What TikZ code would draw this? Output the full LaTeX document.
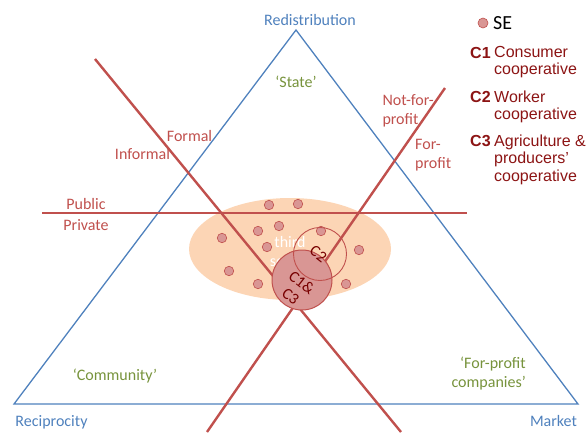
\documentclass[tikz,border=0pt]{standalone}
\usepackage{fontspec}
\setmainfont{Carlito}
\newfontfamily\arialf{Liberation Sans}
\usetikzlibrary{shapes.geometric}
\definecolor{tblue}{HTML}{4F81BD}
\definecolor{tred}{HTML}{C0504D}
\definecolor{tgreen}{HTML}{77933C}
\definecolor{tpeach}{HTML}{FCD5B5}
\definecolor{tpink}{HTML}{D99694}
\definecolor{tdark}{RGB}{120,0,0}
\definecolor{tleg}{RGB}{140,20,20}
\begin{document}
\begin{tikzpicture}[x=1pt,y=-1pt,
  lbl/.style={font=\fontsize{16}{19.5}\selectfont, inner sep=0pt},
  redlbl/.style={lbl, text=tred, align=left},
  grnlbl/.style={lbl, text=tgreen},
  bluelbl/.style={lbl, text=tblue},
  redline/.style={draw=tred, line width=2.4pt},
  sedot/.style={circle, fill=tpink, draw=tred, line width=0.6pt, minimum size=9.5pt, inner sep=0pt},
  legkey/.style={font=\arialf\bfseries\fontsize{16}{17.3}\selectfont, text=tleg, inner sep=0pt, anchor=base west},
  legtxt/.style={font=\arialf\fontsize{16}{17.3}\selectfont, text=tleg, inner sep=0pt, align=left, anchor=north west},
  clbl/.style={font=\fontsize{16}{18}\selectfont, text=tdark, inner sep=0pt, align=center, rotate=-38},
]
\useasboundingbox (0,0) rectangle (587,432);
% triangle
\coordinate (top) at (296,30);
\coordinate (bl) at (14,404);
\coordinate (br) at (578,404);
\draw[tblue, line width=1.3pt, line join=miter] (top) -- (bl) -- (br) -- cycle;
% third sector ellipse
\node[ellipse, fill=tpeach, minimum width=202pt, minimum height=102pt, inner sep=0pt] (ell) at (290,249) {};
\node[lbl, text=white, align=center] (ts) at (290,251.5) {third\\sector};
% red lines
\coordinate (a1) at (95,59);
\coordinate (a2) at (401,432);
\coordinate (b1) at (445,88);
\coordinate (b2) at (207,432);
\coordinate (h1) at (42,213);
\coordinate (h2) at (467,213);
\draw[redline] (a1) -- (a2);
\draw[redline] (b1) -- (b2);
\draw[redline] (h1) -- (h2);
% SE dots
\node[sedot] (d1) at (269,205) {};
\node[sedot] (d2) at (298,204) {};
\node[sedot] (d3) at (258,231) {};
\node[sedot] (d4) at (279,226) {};
\node[sedot] (d5) at (222,238) {};
\node[sedot] (d6) at (267,247) {};
\node[sedot] (d7) at (321,231) {};
\node[sedot] (d8) at (359,250) {};
\node[sedot] (d9) at (229,271) {};
\node[sedot] (d10) at (258,284) {};
\node[sedot] (d11) at (346,284) {};
% cooperative circles
\node[circle, fill=tpink, draw=tred, line width=1pt, minimum size=60pt, inner sep=0pt] (c13) at (302,280) {};
\node[circle, draw=tred, line width=0.9pt, minimum size=53pt, inner sep=0pt] (c2) at (320,254) {};
\node[clbl] (c2l) at (318.3,254) {C2};
\node[clbl] (c13l) at (296.3,289.5) {C1\&\\C3};
% corner labels
\node[bluelbl] (redis) at (310,20) {Redistribution};
\node[bluelbl] (recip) at (51.5,422) {Reciprocity};
\node[bluelbl] (market) at (553.5,421) {Market};
% sector labels
\node[grnlbl] (state) at (296,82) {‘State’};
\node[grnlbl] (comm) at (115,376) {‘Community’};
\node[grnlbl, align=right, anchor=east] (fpc) at (526,373.5) {‘For-profit\\companies’};
% dimension labels
\node[redlbl] (formal) at (189.5,136) {Formal};
\node[redlbl] (informal) at (142.5,154) {Informal};
\node[redlbl] (public) at (86,204) {Public};
\node[redlbl] (private) at (86,225) {Private};
\node[redlbl, anchor=west] (nfp) at (382.3,111) {Not-for-\\profit};
\node[redlbl, anchor=west] (fp) at (415,155) {For-\\profit};
% legend
\node[sedot, minimum size=10pt] (sekey) at (483,23) {};
\node[font=\fontsize{20}{24}\selectfont, inner sep=0pt, anchor=west] (se) at (493,23) {SE};
\node[legkey] (k1) at (470,58) {C1};
\node[legtxt] (t1) at (494,46.3) {Consumer\\cooperative};
\node[legkey] (k2) at (470,102.3) {C2};
\node[legtxt] (t2) at (494,90.6) {Worker\\cooperative};
\node[legkey] (k3) at (470,146.6) {C3};
\node[legtxt] (t3) at (494,134.9) {Agriculture \&\\producers’\\cooperative};
\end{tikzpicture}
\end{document}
